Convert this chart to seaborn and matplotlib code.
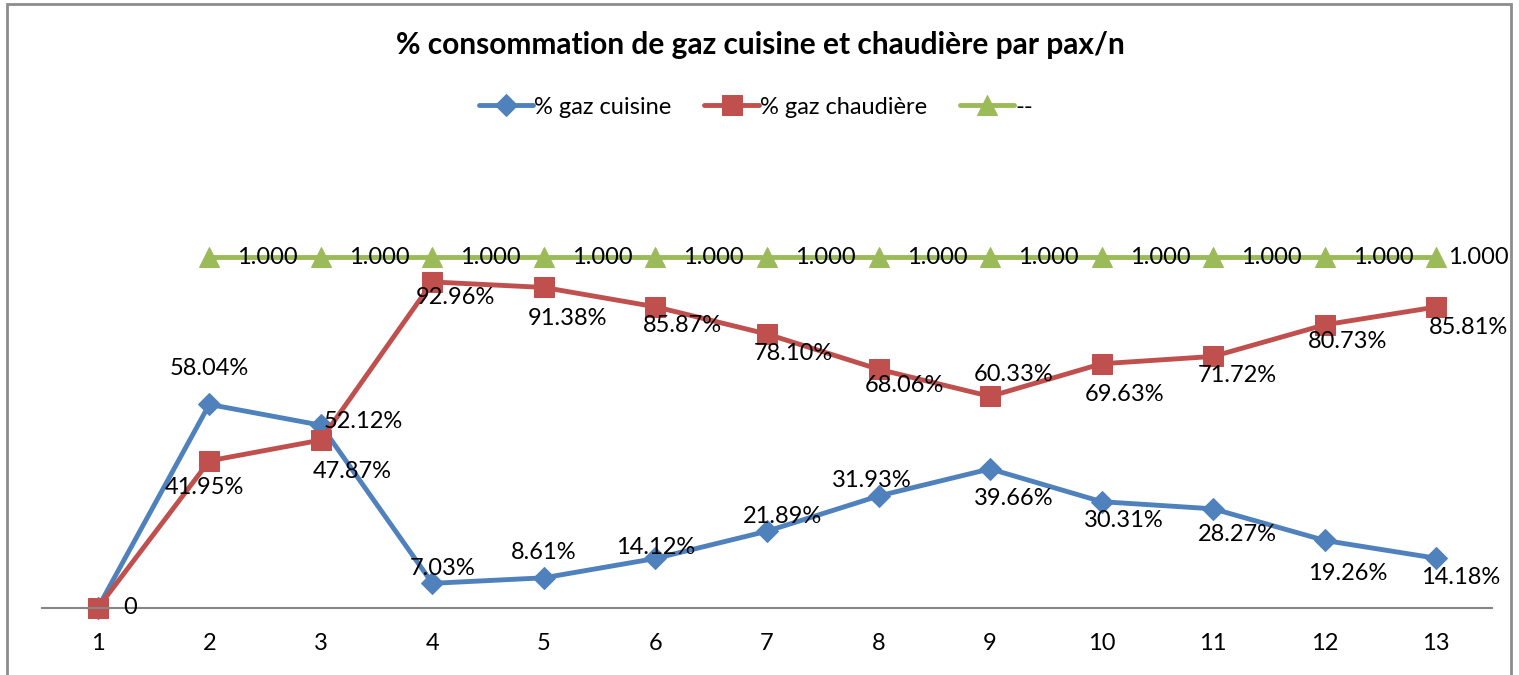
import pandas as pd
import numpy as np
import matplotlib.pyplot as plt
import seaborn as sns
from matplotlib.patches import Rectangle

# Data
periods = list(range(1, 14))
gaz_cuisine = [0, 58.04, 52.12, 7.03, 8.61, 14.12, 21.89, 31.93, 39.66, 30.31, 28.27, 19.26, 14.18]
gaz_chaudiere = [0, 41.95, 47.87, 92.96, 91.38, 85.87, 78.10, 68.06, 60.33, 69.63, 71.72, 80.73, 85.81]
ref_periods = list(range(2, 14))
ref_values = [1.0] * 12

# label offsets (pixels) for each data label, tuned by eye
cuisine_offsets = [None, (0, 36), (3, 4), (10, 15), (0, 25), (0, 11), (16, 15), (-7, 15),
                   (24, -30), (22, -19), (24, -26), (23, -33), (24, -19)]
chaudiere_offsets = [(32, 0), (-5, -27), (31, -31), (23, -16), (24, -31), (27, -19), (26, -19),
                     (26, -16), (24, 22), (23, -31), (24, -19), (23, -17), (32, -20)]

sns.set_style("white")
plt.rcParams['font.family'] = ['Lato', 'DejaVu Sans']
plt.rcParams['text.color'] = 'black'
plt.rcParams['xtick.color'] = 'black'

blue, red, green = "#4F81BD", "#C0504D", "#9BBB59"

df = pd.DataFrame({"x": periods, "cuisine": np.array(gaz_cuisine) / 100,
                   "chaudiere": np.array(gaz_chaudiere) / 100})
df_ref = pd.DataFrame({"x": ref_periods, "ref": ref_values})

fig = plt.figure(figsize=(15.19, 6.75), dpi=100)
ax = fig.add_axes([42 / 1519, 67 / 675, 1450 / 1519, 456 / 675])

sns.lineplot(data=df, x="x", y="cuisine", ax=ax, color=blue, lw=3.5, marker="D",
             markersize=11, markeredgecolor=blue, label="% gaz cuisine", clip_on=False)
sns.lineplot(data=df, x="x", y="chaudiere", ax=ax, color=red, lw=3.5, marker="s",
             markersize=14, markeredgecolor=red, label="% gaz chaudière", clip_on=False)
sns.lineplot(data=df_ref, x="x", y="ref", ax=ax, color=green, lw=3.5, marker="^",
             markersize=14, markeredgecolor=green, label="--", clip_on=False)

fs = 17
for i, (x, v) in enumerate(zip(periods, gaz_cuisine)):
    off = cuisine_offsets[i]
    if off is None:
        continue
    ha = "left" if i == 2 else "center"
    ax.annotate(f"{v:.2f}%", (x, v / 100), xytext=off, textcoords="offset pixels",
                ha=ha, va="center", fontsize=fs)
for i, (x, v) in enumerate(zip(periods, gaz_chaudiere)):
    txt = "0" if v == 0 else f"{v:.2f}%"
    ax.annotate(txt, (x, v / 100), xytext=chaudiere_offsets[i], textcoords="offset pixels",
                ha="center", va="center", fontsize=fs)
for i, (x, v) in enumerate(zip(ref_periods, ref_values)):
    dx = 12 if i == len(ref_periods) - 1 else 28
    ax.annotate(f"{v:.3f}", (x, v), xytext=(dx, 0), textcoords="offset pixels",
                ha="left", va="center", fontsize=fs)

ax.set_xlim(0.5, 13.5)
ax.set_ylim(0, 1.3)
ax.set_xticks(periods)
ax.set_xticklabels([str(p) for p in periods], fontsize=fs)
ax.tick_params(axis="x", length=0, pad=18, labelcolor="black")
ax.set_yticks([])
ax.set_xlabel("")
ax.set_ylabel("")
for s in ["top", "left", "right"]:
    ax.spines[s].set_visible(False)
ax.spines["bottom"].set_color("#868686")
ax.spines["bottom"].set_linewidth(1.5)

leg = ax.legend(loc="center", bbox_to_anchor=(756 / 1519, 1 - 107 / 675), bbox_transform=fig.transFigure,
                ncol=3, frameon=False, fontsize=fs, handlelength=2.3, columnspacing=1.4, handletextpad=0.05)
for t in leg.get_texts():
    t.set_color("black")

fig.text(760 / 1519, 1 - 45 / 675, "% consommation de gaz cuisine et chaudière par pax/n",
         ha="center", va="center", fontsize=21.5, fontweight="bold", color="black")

fig.patches.append(Rectangle((7 / 1519, -0.05), 1504 / 1519, 1 - 4 / 675 + 0.05,
                             transform=fig.transFigure, fill=False, edgecolor="#8C8C8C", lw=2))

fig.savefig("out.png", dpi=100)
